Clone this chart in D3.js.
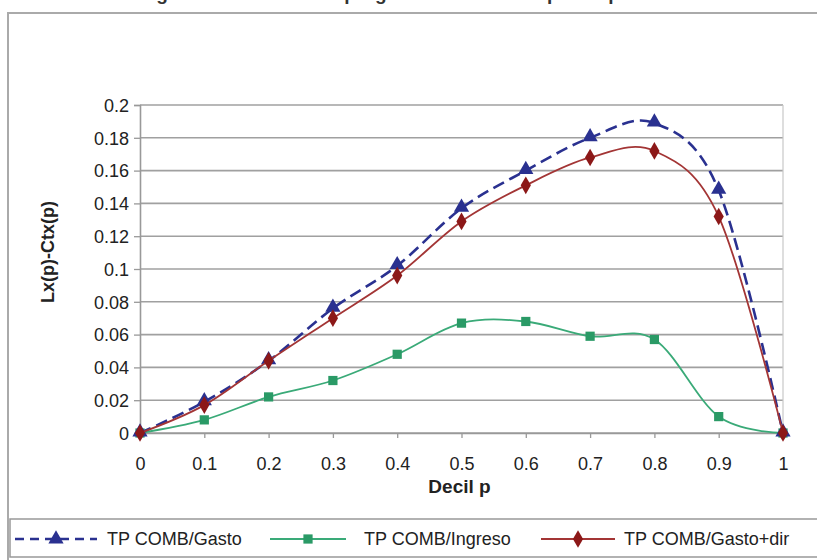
<!DOCTYPE html>
<html>
<head>
<meta charset="utf-8">
<script src="https://cdn.jsdelivr.net/npm/d3@7"></script>
<style>
  body { margin: 0; background: #fff; }
  text { font-family: "Liberation Sans", Arial, sans-serif; }
</style>
</head>
<body>
<script>
var deciles = [0, 0.1, 0.2, 0.3, 0.4, 0.5, 0.6, 0.7, 0.8, 0.9, 1];
var gasto    = [0, 0.019, 0.044, 0.076, 0.102, 0.137, 0.160, 0.180, 0.189, 0.148, 0];
var ingreso  = [0, 0.008, 0.022, 0.032, 0.048, 0.067, 0.068, 0.059, 0.057, 0.010, 0];
var gastoDir = [0, 0.017, 0.044, 0.070, 0.096, 0.129, 0.151, 0.168, 0.172, 0.132, 0];
var yTicks = [0, 0.02, 0.04, 0.06, 0.08, 0.1, 0.12, 0.14, 0.16, 0.18, 0.2];
var xTicks = [0, 0.1, 0.2, 0.3, 0.4, 0.5, 0.6, 0.7, 0.8, 0.9, 1];
var seriesNames = ["TP COMB/Gasto", "TP COMB/Ingreso", "TP COMB/Gasto+dir"];

var totalWidth = 817;
var totalHeight = 560;
var margin = {top:105, left:140, bottom:127, right:34};
var width = totalWidth - margin.left - margin.right;
var height = totalHeight - margin.top - margin.bottom;

var svgin = d3.select("body")
    .append("svg")
    .attr("width", totalWidth)
    .attr("height", totalHeight);

// titulo (cortado arriba en la imagen)
svgin.append("text")
    .attr("x", 424)
    .attr("y", 0)
    .attr("text-anchor", "middle")
    .attr("font-weight", "bold")
    .attr("font-size", "19px")
    .attr("fill", "#333")
    .text("gráfico 3: Curvas de progresividad de los tipos impositivos");

// marco exterior
svgin.append("rect")
    .attr("x", 8).attr("y", 13)
    .attr("width", 830).attr("height", 600)
    .attr("fill", "none")
    .attr("stroke", "#aaa")
    .attr("stroke-width", 2);

// caja de leyenda
svgin.append("rect")
    .attr("x", 10).attr("y", 519)
    .attr("width", 830).attr("height", 38)
    .attr("fill", "none")
    .attr("stroke", "#999")
    .attr("stroke-width", 1.5);

var svg = svgin
    .append("g")
    .attr("transform","translate("+margin.left+","+margin.top+")");

var x = d3.scaleLinear().domain([0, 1]).range([0, width]);
var y = d3.scaleLinear().domain([0, 0.2]).range([height, 0]);

// rejilla
svg.selectAll("line.grid")
   .data(yTicks)
   .enter()
   .append("line")
   .attr("class", "grid")
   .attr("x1", 0).attr("x2", width)
   .attr("y1", d => y(d)).attr("y2", d => y(d))
   .attr("stroke", "#a0a0a0")
   .attr("stroke-width", 1.6);

svg.append("line")
   .attr("x1", width).attr("x2", width)
   .attr("y1", 0).attr("y2", height)
   .attr("stroke", "#c8c8c8")
   .attr("stroke-width", 1.2);

// ejes
var yAxis = svg.append("g")
   .call(d3.axisLeft(y).tickValues(yTicks).tickSize(6).tickPadding(5).tickFormat(d => d3.format("")(+d.toFixed(2))));
var xAxis = svg.append("g")
   .attr("transform", "translate(0," + height + ")")
   .call(d3.axisBottom(x).tickValues(xTicks).tickSize(5).tickPadding(19).tickFormat(d => d3.format("")(+d.toFixed(1))));

[yAxis, xAxis].forEach(function(a) {
  a.select(".domain").attr("stroke", "#999").attr("stroke-width", 1.6);
  a.selectAll(".tick line").attr("stroke", "#999").attr("stroke-width", 1.3);
  a.selectAll(".tick text")
   .attr("font-family", "Liberation Sans, Arial, sans-serif")
   .attr("font-size", "18px")
   .attr("fill", "#222");
});
yAxis.selectAll(".tick text").attr("dy", "0.35em");

svg.append("text")
   .attr("transform", "translate(" + (-86) + "," + (height/2 - 17) + ") rotate(-90)")
   .attr("text-anchor", "middle")
   .attr("font-weight", "bold")
   .attr("font-size", "18px")
   .attr("fill", "#222")
   .text("Lx(p)-Ctx(p)");

svg.append("text")
   .attr("x", width/2 - 2)
   .attr("y", height + 60)
   .attr("text-anchor", "middle")
   .attr("font-weight", "bold")
   .attr("font-size", "19px")
   .attr("fill", "#222")
   .text("Decil p");

var line = d3.line()
   .x(d => x(d[0]))
   .y(d => y(d[1]))
   .curve(d3.curveCardinal.tension(0));

function pares(vals) {
  return deciles.map((p, i) => [p, vals[i]]);
}

var blue = "#2a3190";
var green = "#3aaa78";
var greenMark = "#2a9a66";
var red = "#a33535";
var redMark = "#8c1818";

var triangle = d3.symbol().type(d3.symbolTriangle).size(100);
var square = d3.symbol().type(d3.symbolSquare).size(85);
var diamond = d3.symbol().type(d3.symbolDiamond).size(90);

// Ingreso
svg.append("path")
   .attr("d", line(pares(ingreso)))
   .attr("fill", "none")
   .attr("stroke", green)
   .attr("stroke-width", 1.8);
svg.selectAll("path.sq")
   .data(pares(ingreso))
   .enter()
   .append("path")
   .attr("class", "sq")
   .attr("d", square)
   .attr("transform", d => "translate(" + x(d[0]) + "," + y(d[1]) + ")")
   .attr("fill", greenMark);

// Gasto (discontinua)
svg.append("path")
   .attr("d", line(pares(gasto)))
   .attr("fill", "none")
   .attr("stroke", blue)
   .attr("stroke-width", 2.6)
   .attr("stroke-dasharray", "12,6");
svg.selectAll("path.tri")
   .data(pares(gasto))
   .enter()
   .append("path")
   .attr("class", "tri")
   .attr("d", triangle)
   .attr("transform", d => "translate(" + x(d[0]) + "," + (y(d[1]) - 1) + ")")
   .attr("fill", blue);

// Gasto+dir
svg.append("path")
   .attr("d", line(pares(gastoDir)))
   .attr("fill", "none")
   .attr("stroke", red)
   .attr("stroke-width", 1.8);
svg.selectAll("path.dia")
   .data(pares(gastoDir))
   .enter()
   .append("path")
   .attr("class", "dia")
   .attr("d", diamond)
   .attr("transform", d => "translate(" + x(d[0]) + "," + y(d[1]) + ")")
   .attr("fill", redMark);

// leyenda
var legendY = 539;
var leg = [
  {x0: 15, x1: 97, color: blue, dash: "9,6", w: 2.4, sym: triangle, mark: blue, tx: 107},
  {x0: 270, x1: 346, color: green, dash: null, w: 1.8, sym: square, mark: greenMark, tx: 364},
  {x0: 541, x1: 615, color: red, dash: null, w: 1.8, sym: diamond, mark: redMark, tx: 624}
];
leg.forEach(function(l, i) {
  svgin.append("line")
     .attr("x1", l.x0).attr("x2", l.x1)
     .attr("y1", legendY).attr("y2", legendY)
     .attr("stroke", l.color)
     .attr("stroke-width", l.w)
     .attr("stroke-dasharray", l.dash);
  svgin.append("path")
     .attr("d", l.sym)
     .attr("transform", "translate(" + ((l.x0 + l.x1)/2) + "," + legendY + ")")
     .attr("fill", l.mark);
  svgin.append("text")
     .attr("x", l.tx)
     .attr("y", legendY)
     .attr("dy", "0.35em")
     .attr("font-size", "18px")
     .attr("fill", "#222")
     .text(seriesNames[i]);
});
</script>
</body>
</html>
